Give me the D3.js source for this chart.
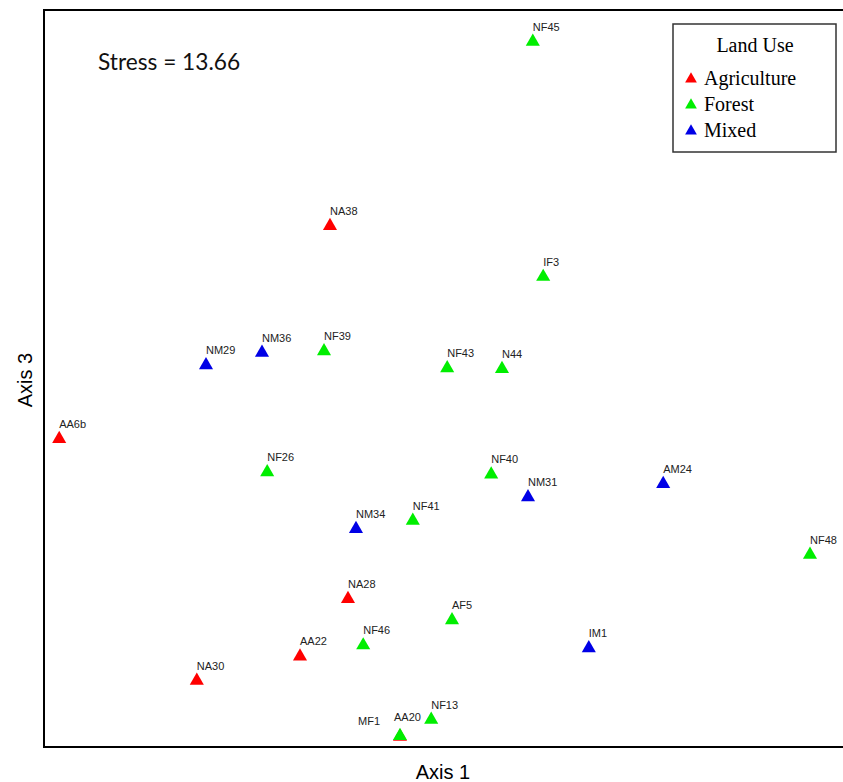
<!DOCTYPE html>
<html>
<head>
<meta charset="utf-8">
<script src="https://cdn.jsdelivr.net/npm/d3@7"></script>
<style>
  html, body { margin: 0; padding: 0; background: #fff; }
  svg { display: block; }
</style>
</head>
<body>
<div id="chart"></div>
<script>
// ordination scores (arbitrary axis units 0..100)
const sites   = ['NF45', 'NA38', 'IF3', 'NM29', 'NM36', 'NF39', 'NF43', 'N44', 'AA6b', 'NF26', 'NF40', 'AM24', 'NM34',
                 'NF41', 'NM31', 'NF48', 'NA28', 'AF5', 'NF46', 'AA22', 'IM1', 'NA30', 'NF13', 'AA20', 'MF1'];
const axis1   = [61.1, 35.75, 62.4, 20.25, 27.25, 35.0, 50.4, 57.25, 1.9, 27.9, 55.9, 77.4, 39.0,
                 46.1, 60.5, 95.75, 38.0, 51.0, 39.9, 32.0, 68.1, 19.1, 48.4, 44.5, 44.5];
const axis3   = [95.7, 70.7, 63.8, 51.8, 53.5, 53.7, 51.4, 51.3, 41.8, 37.3, 37.0, 35.7, 29.6,
                 30.7, 33.9, 26.1, 20.1, 17.2, 13.8, 12.3, 13.4, 9.0, 3.7, 1.4, 1.5];
const landUse = ['Forest', 'Agriculture', 'Forest', 'Mixed', 'Mixed', 'Forest', 'Forest', 'Forest', 'Agriculture', 'Forest', 'Forest', 'Mixed', 'Mixed',
                 'Forest', 'Mixed', 'Forest', 'Agriculture', 'Forest', 'Forest', 'Agriculture', 'Mixed', 'Agriculture', 'Forest', 'Agriculture', 'Forest'];
const groups  = ['Agriculture', 'Forest', 'Mixed'];
const stress  = 13.66;

const colors = { Agriculture: '#ff0000', Forest: '#00ee00', Mixed: '#0000e6' };
// label nudges for overlapping sites
const labelNudge = { MF1: [-42, 0], AA20: [-6, -5] };

const W = 843, H = 782;
const plot = { left: 44, top: 10, right: 844, bottom: 747 };

const svg = d3.select('#chart').append('svg')
  .attr('width', W).attr('height', H);

const x = d3.scaleLinear().domain([0, 100]).range([plot.left, plot.right]);
const y = d3.scaleLinear().domain([0, 100]).range([plot.bottom, plot.top]);

// frame (right edge runs off the image)
svg.append('rect')
  .attr('x', plot.left).attr('y', plot.top)
  .attr('width', plot.right - plot.left + 20).attr('height', plot.bottom - plot.top)
  .attr('fill', 'none').attr('stroke', '#000').attr('stroke-width', 2);

// axis titles
svg.append('text')
  .attr('x', 443).attr('y', 779)
  .attr('text-anchor', 'middle')
  .attr('font-family', 'Liberation Sans, Arial, sans-serif').attr('font-size', 20)
  .text('Axis 1');

svg.append('text')
  .attr('transform', 'translate(32,380) rotate(-90)')
  .attr('text-anchor', 'middle')
  .attr('font-family', 'Liberation Sans, Arial, sans-serif').attr('font-size', 20)
  .text('Axis 3');

svg.append('text')
  .attr('x', 98).attr('y', 70)
  .attr('font-family', 'Lato, sans-serif').attr('font-size', 22.7)
  .attr('fill', '#111')
  .text('Stress = ' + stress.toFixed(2));

const data = sites.map((s, i) => ({ site: s, a1: axis1[i], a3: axis3[i], use: landUse[i] }));

const tri = d3.symbol().type(d3.symbolTriangle).size(86);

svg.append('g').selectAll('path')
  .data(data)
  .join('path')
  .attr('d', tri)
  .attr('transform', d => `translate(${x(d.a1)},${y(d.a3)})`)
  .attr('fill', d => colors[d.use]);

svg.append('g').selectAll('text')
  .data(data)
  .join('text')
  .attr('x', d => x(d.a1) + (labelNudge[d.site] ? labelNudge[d.site][0] : 0))
  .attr('y', d => y(d.a3) - 11 + (labelNudge[d.site] ? labelNudge[d.site][1] : 0))
  .attr('font-family', 'Liberation Sans, Arial, sans-serif').attr('font-size', 11)
  .attr('fill', '#222')
  .text(d => d.site);

// legend
const lg = svg.append('g').attr('transform', 'translate(673,24)');
lg.append('rect')
  .attr('width', 163).attr('height', 128)
  .attr('fill', '#fff').attr('stroke', '#333').attr('stroke-width', 1.5);
lg.append('text')
  .attr('x', 82).attr('y', 28)
  .attr('text-anchor', 'middle')
  .attr('font-family', 'Liberation Serif, Times New Roman, serif').attr('font-size', 20)
  .text('Land Use');
const items = lg.selectAll('g.item')
  .data(groups)
  .join('g')
  .attr('class', 'item')
  .attr('transform', (d, i) => `translate(0,${54 + i * 26})`);
items.append('path')
  .attr('d', d3.symbol().type(d3.symbolTriangle).size(60))
  .attr('transform', 'translate(18,1)')
  .attr('fill', d => colors[d]);
items.append('text')
  .attr('x', 31).attr('y', 7)
  .attr('font-family', 'Liberation Serif, Times New Roman, serif').attr('font-size', 20)
  .text(d => d);
</script>
</body>
</html>
